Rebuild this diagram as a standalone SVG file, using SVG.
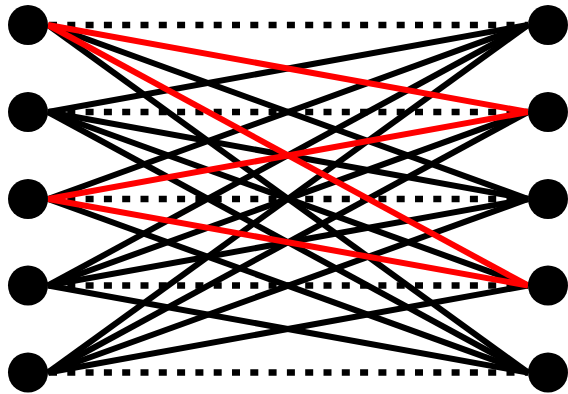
<svg xmlns="http://www.w3.org/2000/svg" width="568" height="394" viewBox="0 0 568 394">
<style>
.e{stroke:#000;stroke-width:6;fill:none}
.r{stroke:#f00;stroke-width:6;fill:none}
.d{stroke:#000;stroke-width:6.5;stroke-dasharray:8 10.3;fill:none}
.n{fill:#000}
</style>
<rect width="568" height="394" fill="#fff"/>
<g id="connectors">
<line class="d" x1="49" y1="25" x2="528" y2="25"/>
<line class="d" x1="49" y1="112" x2="528" y2="112"/>
<line class="d" x1="49" y1="199" x2="528" y2="199"/>
<line class="d" x1="49" y1="285.5" x2="528" y2="285.5"/>
<line class="d" x1="49" y1="372.5" x2="528" y2="372.5"/>
<line class="e" x1="48" y1="25" x2="528" y2="199"/>
<line class="e" x1="48" y1="25" x2="528" y2="372.5"/>
<line class="e" x1="48" y1="112" x2="528" y2="25"/>
<line class="e" x1="48" y1="112" x2="528" y2="199"/>
<line class="e" x1="48" y1="112" x2="528" y2="285.5"/>
<line class="e" x1="48" y1="112" x2="528" y2="372.5"/>
<line class="e" x1="48" y1="199" x2="528" y2="25"/>
<line class="e" x1="48" y1="199" x2="528" y2="372.5"/>
<line class="e" x1="48" y1="285.5" x2="528" y2="25"/>
<line class="e" x1="48" y1="285.5" x2="528" y2="112"/>
<line class="e" x1="48" y1="285.5" x2="528" y2="199"/>
<line class="e" x1="48" y1="285.5" x2="528" y2="372.5"/>
<line class="e" x1="48" y1="372.5" x2="528" y2="25"/>
<line class="e" x1="48" y1="372.5" x2="528" y2="112"/>
<line class="e" x1="48" y1="372.5" x2="528" y2="199"/>
<line class="e" x1="48" y1="372.5" x2="528" y2="285.5"/>
<line class="r" x1="48" y1="25" x2="528" y2="112"/>
<line class="r" x1="48" y1="25" x2="528" y2="285.5"/>
<line class="r" x1="48" y1="199" x2="528" y2="112"/>
<line class="r" x1="48" y1="199" x2="528" y2="285.5"/>
</g>
<g id="L1"><circle class="n" cx="28" cy="25" r="20"/></g>
<g id="L2"><circle class="n" cx="28" cy="112" r="20"/></g>
<g id="L3"><circle class="n" cx="28" cy="199" r="20"/></g>
<g id="L4"><circle class="n" cx="28" cy="285.5" r="20"/></g>
<g id="L5"><circle class="n" cx="28" cy="372.5" r="20"/></g>
<g id="R1"><circle class="n" cx="548" cy="25" r="20"/></g>
<g id="R2"><circle class="n" cx="548" cy="112" r="20"/></g>
<g id="R3"><circle class="n" cx="548" cy="199" r="20"/></g>
<g id="R4"><circle class="n" cx="548" cy="285.5" r="20"/></g>
<g id="R5"><circle class="n" cx="548" cy="372.5" r="20"/></g>
</svg>
